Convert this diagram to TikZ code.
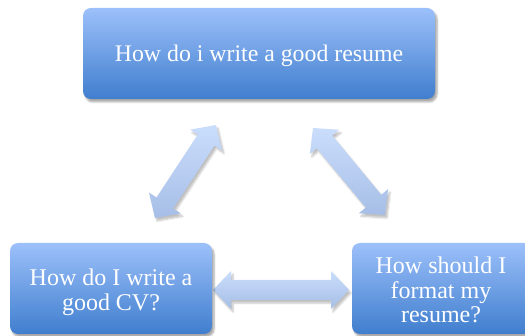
\documentclass[tikz,border=0pt]{standalone}
\usepackage{fontspec}
\setmainfont{Liberation Serif}
\usetikzlibrary{calc,shadows.blur}
\definecolor{boxtop}{RGB}{156,192,250}
\definecolor{boxbot}{RGB}{64,126,206}
\definecolor{arrtop}{RGB}{202,221,252}
\definecolor{arrbot}{RGB}{166,190,230}
\tikzset{
  qbox/.style={rounded corners=8pt, top color=boxtop, bottom color=boxbot,
    minimum height=91pt, inner sep=0pt,
    blur shadow={shadow xshift=2pt, shadow yshift=-3pt, shadow blur steps=6, shadow opacity=35}},
  qtext/.style={text=white, align=center},
  arrowfill/.style={top color=arrtop, bottom color=arrbot,
    blur shadow={shadow xshift=2pt, shadow yshift=-3pt, shadow blur steps=5, shadow opacity=25}}
}
\newcommand{\blockarrow}[2]{%
  \path[arrowfill] (#1)
    -- ($(#1)!18pt!(#2)!19pt!90:(#2)$)
    -- ($(#1)!18pt!(#2)!10pt!90:(#2)$)
    -- ($(#2)!18pt!(#1)!10pt!-90:(#1)$)
    -- ($(#2)!18pt!(#1)!19pt!-90:(#1)$)
    -- (#2)
    -- ($(#2)!18pt!(#1)!19pt!90:(#1)$)
    -- ($(#2)!18pt!(#1)!10pt!90:(#1)$)
    -- ($(#1)!18pt!(#2)!10pt!-90:(#2)$)
    -- ($(#1)!18pt!(#2)!19pt!-90:(#2)$)
    -- cycle;}
\begin{document}
\begin{tikzpicture}[x=1pt,y=-1pt]
\useasboundingbox (0,0) rectangle (525,336);
\clip (0,0) rectangle (525,336);
% arrow end points
\coordinate (l1) at (155,218);
\coordinate (l2) at (216,125);
\coordinate (r1) at (313,128);
\coordinate (r2) at (385,215);
\coordinate (h1) at (213,290);
\coordinate (h2) at (349,290);
\blockarrow{l1}{l2}
\blockarrow{r1}{r2}
\blockarrow{h1}{h2}
% boxes
\node[qbox, minimum width=352pt] (top) at (259,53.5) {};
\node[qtext, font=\fontsize{23.8}{26}\selectfont] (ttop) at (259,56) {How do i write a good resume};
\node[qbox, minimum width=202pt] (cv) at (111,288.5) {};
\node[qtext, font=\fontsize{24}{25}\selectfont] (tcv) at (111,292) {How do I write a\\good CV?};
\node[qbox, minimum width=180pt] (fmt) at (442,288.5) {};
\node[qtext, font=\fontsize{24}{24.5}\selectfont] (tfmt) at (441,290) {How should I\\format my\\resume?};
\end{tikzpicture}
\end{document}
